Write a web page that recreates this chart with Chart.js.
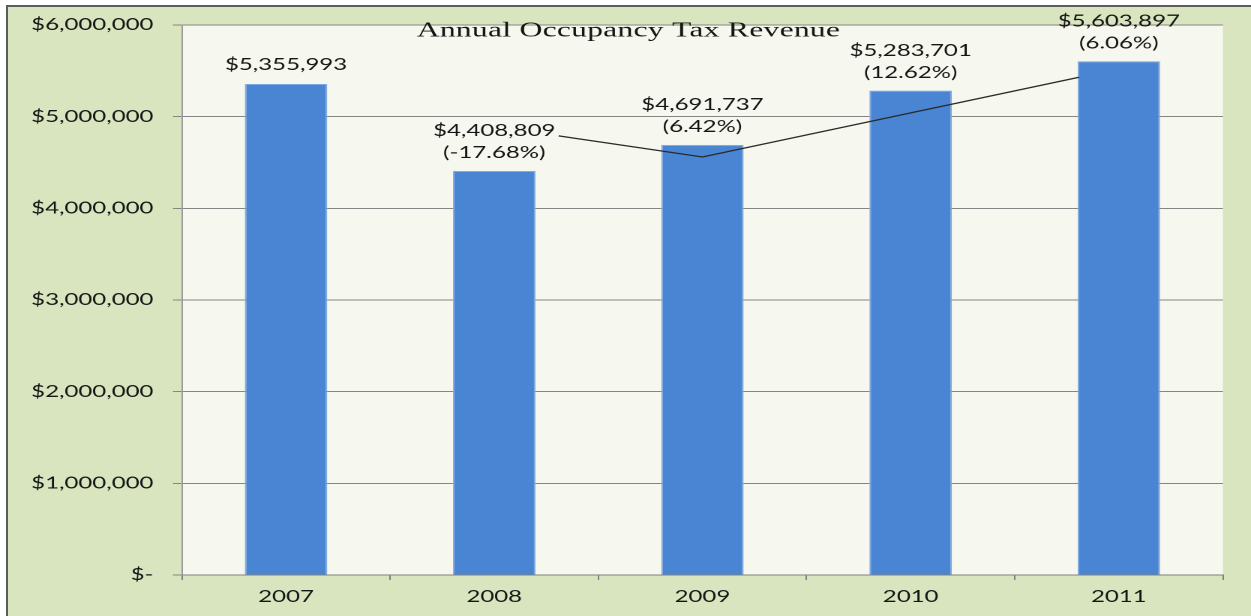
<!DOCTYPE html>
<html>
<head>
<meta charset="utf-8">
<script src="https://cdn.jsdelivr.net/npm/chart.js@4/dist/chart.umd.min.js"></script>
<style>
    html, body { margin: 0; padding: 0; background: #ffffff; }
    body { width: 1251px; height: 616px; position: relative; overflow: hidden; }
    #frame {
        position: absolute; left: 6px; top: 5px; right: 0; bottom: 0;
        background: #d8e5be;
        border-left: 2px solid #5c5c5c;
        border-top: 2px solid #5c5c5c;
    }
    /* chart is laid out narrow and stretched sideways */
    #wrap {
        position: absolute; left: 0; top: 0;
        width: 834px; height: 616px;
        transform: scaleX(1.5); transform-origin: 0 0;
    }
</style>
</head>
<body>
<div id="frame"></div>
<div id="wrap"><canvas id="taxChart"></canvas></div>
<script>
const years = ['2007', '2008', '2009', '2010', '2011'];
const revenue = [5355993, 4408809, 4691737, 5283701, 5603897];
const yTicks = [0, 1000000, 2000000, 3000000, 4000000, 5000000, 6000000];

// hand-drawn trend stroke (x in category units, y in dollars)
const trendX = [1.24, 2.0, 3.99];
const trendY = [4790000, 4560000, 5430000];

const chartTitle = 'Annual Occupancy Tax Revenue';

const money = v => '$' + v.toLocaleString('en-US');

// year-over-year change, e.g. "(6.42%)"
const pctLabels = revenue.map((v, i) => {
    if (i === 0) return null;
    const p = (v - revenue[i - 1]) / revenue[i - 1] * 100;
    return '(' + p.toFixed(2) + '%)';
});

const trendPoints = trendX.map((x, i) => ({ x: x, y: trendY[i] }));

const plotBackground = {
    id: 'plotBackground',
    beforeDraw(chart) {
        const { ctx, chartArea: a } = chart;
        ctx.save();
        ctx.fillStyle = '#f6f7ee';
        ctx.fillRect(a.left, a.top, a.right - a.left, a.bottom - a.top);
        ctx.restore();
    }
};

const barLabels = {
    id: 'barLabels',
    afterDatasetsDraw(chart) {
        const ctx = chart.ctx;
        const meta = chart.getDatasetMeta(1);
        ctx.save();
        ctx.font = '16px Lato';
        ctx.fillStyle = '#151515';
        ctx.textAlign = 'center';
        ctx.textBaseline = 'middle';
        meta.data.forEach((bar, i) => {
            if (pctLabels[i]) {
                ctx.fillText(money(revenue[i]), bar.x, bar.y - 40);
                ctx.fillText(pctLabels[i], bar.x, bar.y - 18);
            } else {
                ctx.fillText(money(revenue[i]), bar.x, bar.y - 19);
            }
        });

        // title sits over the top of the plot
        ctx.font = '21px "Liberation Serif"';
        ctx.letterSpacing = '0.2px';
        ctx.fillStyle = '#151515';
        ctx.fillText(chartTitle, 419, 31);
        ctx.restore();
    }
};

const ctx = document.getElementById('taxChart').getContext('2d');

new Chart(ctx, {
    type: 'bar',
    data: {
        labels: years,
        datasets: [{
            type: 'line',
            data: trendPoints,
            xAxisID: 'xl',
            borderColor: '#2a2a2a',
            borderWidth: 1.3,
            pointRadius: 0,
            tension: 0,
            order: 0
        }, {
            type: 'bar',
            data: revenue,
            xAxisID: 'x',
            grouped: false,
            backgroundColor: '#4a85d4',
            borderColor: '#7fa9e2',
            borderWidth: 1,
            categoryPercentage: 1,
            barPercentage: 0.396,
            order: 1
        }]
    },
    options: {
        responsive: true,
        maintainAspectRatio: false,
        animation: false,
        devicePixelRatio: 2,
        layout: {
            padding: { left: 0, top: 25, right: 18.7, bottom: 0 }
        },
        scales: {
            x: {
                type: 'category',
                afterFit: scale => { scale.height = 41; },
                grid: {
                    drawOnChartArea: false,
                    color: '#808080',
                    tickLength: 5
                },
                border: { color: '#808080' },
                ticks: {
                    color: '#151515',
                    padding: 7,
                    font: { family: 'Lato', size: 16 }
                }
            },
            xl: {
                type: 'linear',
                display: false,
                min: -0.5,
                max: 4.5
            },
            y: {
                min: 0,
                max: 6000000,
                afterFit: scale => { scale.width = 121.3; },
                afterBuildTicks: scale => {
                    scale.ticks = yTicks.map(v => ({ value: v }));
                },
                grid: {
                    color: '#858585',
                    tickLength: 6
                },
                border: { color: '#9a9a9a' },
                ticks: {
                    color: '#151515',
                    padding: 13,
                    font: { family: 'Lato', size: 16 },
                    callback: v => v === 0 ? '$-' : money(v)
                }
            }
        },
        plugins: {
            legend: { display: false },
            tooltip: { enabled: false }
        }
    },
    plugins: [plotBackground, barLabels]
});
</script>
</body>
</html>
